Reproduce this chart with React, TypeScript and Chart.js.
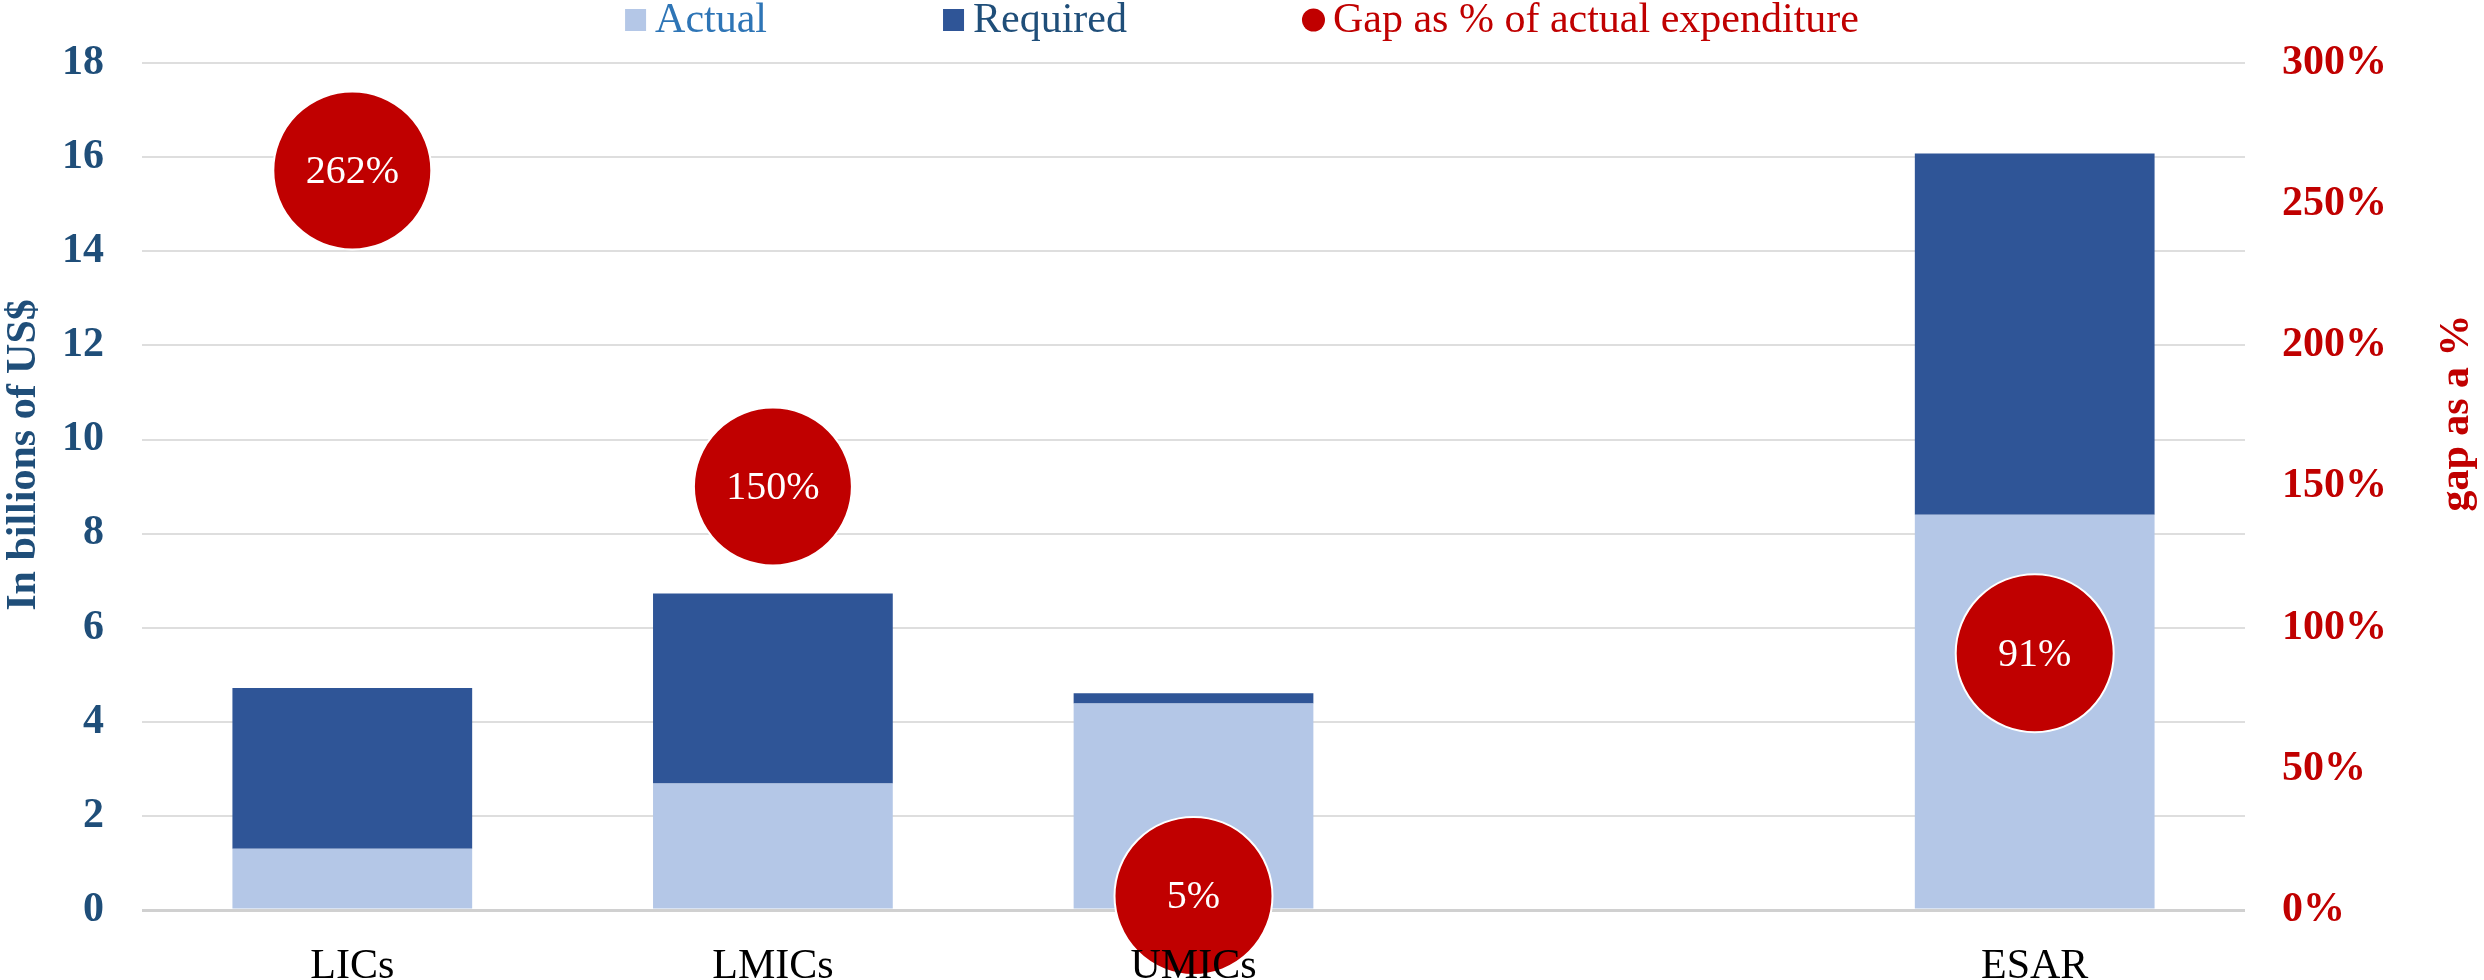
import React, { useEffect, useRef } from "react";
import { Chart, registerables } from "chart.js";

Chart.register(...registerables);

const categories = ["LICs", "LMICs", "UMICs", "", "ESAR"];
const actualValues = [1.3, 2.69, 4.39, null, 8.4];
const requiredValues = [3.42, 4.04, 0.22, null, 7.68];
const gapPercent = [262, 150, 5, null, 91];
const gapLabels = ["262%", "150%", "5%", "", "91%"];
const seriesNames = ["Actual", "Required", "Gap as % of actual expenditure"];
const leftAxisTitle = "In billions of US$";
const rightAxisTitle = "gap as a %";

const FONT = '"Liberation Serif", "Times New Roman", serif';
const C_ACTUAL = "#B4C7E7";
const C_REQ = "#2F5597";
const C_GAP = "#C00000";
const C_AXIS = "#1F4E79";

const overlayPlugin = {
  id: "overlay",
  afterDatasetsDraw(chart: any) {
    const ctx = chart.ctx;
    const meta = chart.getDatasetMeta(2);
    ctx.save();
    ctx.font = `40px ${FONT}`;
    ctx.fillStyle = "#FFFFFF";
    ctx.textAlign = "center";
    ctx.textBaseline = "middle";
    meta.data.forEach((pt: any, i: number) => {
      if (gapPercent[i] == null) return;
      ctx.fillText(gapLabels[i], pt.x, pt.y + 2);
    });
    ctx.restore();
  },
  afterDraw(chart: any) {
    const ctx = chart.ctx;
    ctx.save();
    // legend
    ctx.font = `42px ${FONT}`;
    const items = [
      { label: seriesNames[0], color: C_ACTUAL, text: "#2E75B6", shape: "rect" },
      { label: seriesNames[1], color: C_REQ, text: C_AXIS, shape: "rect" },
      { label: seriesNames[2], color: C_GAP, text: C_GAP, shape: "circle" },
    ];
    const box = 21;
    const gapTxt = 9;
    const spacing = 176;
    const widths = items.map((it) => box + gapTxt + ctx.measureText(it.label).width);
    const total = widths.reduce((a, b) => a + b, 0) + spacing * (items.length - 1);
    let x = (chart.width - total) / 2;
    const cy = 20;
    ctx.textAlign = "left";
    ctx.textBaseline = "middle";
    items.forEach((it, i) => {
      ctx.fillStyle = it.color;
      if (it.shape === "rect") {
        ctx.fillRect(x, cy - 11, box, 22);
      } else {
        ctx.beginPath();
        ctx.arc(x + box / 2, cy, 11.5, 0, Math.PI * 2);
        ctx.fill();
      }
      ctx.fillStyle = it.text;
      ctx.fillText(it.label, x + box + gapTxt, cy + 1);
      x += widths[i] + spacing;
    });
    // axis titles
    ctx.font = `bold 42px ${FONT}`;
    ctx.textAlign = "center";
    ctx.textBaseline = "middle";
    ctx.fillStyle = C_AXIS;
    ctx.save();
    ctx.translate(24, 455);
    ctx.rotate(-Math.PI / 2);
    ctx.fillText(leftAxisTitle, 0, 0);
    ctx.restore();
    ctx.fillStyle = C_GAP;
    ctx.save();
    ctx.translate(2457, 413);
    ctx.rotate(-Math.PI / 2);
    ctx.fillText(rightAxisTitle, 0, 0);
    ctx.restore();
    ctx.restore();
  },
};

export default function App() {
  const ref = useRef<HTMLCanvasElement | null>(null);
  useEffect(() => {
    document.body.style.margin = "0";
    if (!ref.current) return;
    const chart = new Chart(ref.current, {
      type: "bar",
      data: {
        labels: categories,
        datasets: [
          {
            type: "bar",
            label: seriesNames[0],
            data: actualValues as any,
            backgroundColor: C_ACTUAL,
            stack: "s",
            yAxisID: "y",
            order: 2,
            categoryPercentage: 0.57,
            barPercentage: 1,
          },
          {
            type: "bar",
            label: seriesNames[1],
            data: requiredValues as any,
            backgroundColor: C_REQ,
            stack: "s",
            yAxisID: "y",
            order: 2,
            categoryPercentage: 0.57,
            barPercentage: 1,
          },
          {
            type: "line",
            label: seriesNames[2],
            data: gapPercent as any,
            yAxisID: "y2",
            showLine: false,
            pointRadius: 79,
            pointHoverRadius: 79,
            pointBackgroundColor: C_GAP,
            pointBorderColor: "#FFFFFF",
            pointBorderWidth: 2,
            backgroundColor: C_GAP,
            borderColor: C_GAP,
            clip: false as any,
            order: 0,
          } as any,
        ],
      },
      options: {
        responsive: false,
        animation: false,
        devicePixelRatio: 1,
        layout: { autoPadding: false, padding: { top: 55, left: 0, right: 0, bottom: 0 } },
        plugins: {
          legend: { display: false },
          tooltip: { enabled: false },
        },
        scales: {
          x: {
            stacked: true,
            grid: { display: false },
            border: { display: false },
            ticks: {
              z: 1,
              color: "#000000",
              padding: 24,
              font: { family: FONT, size: 42 },
            } as any,
            afterFit: (s: any) => {
              s.height = 70;
            },
          },
          y: {
            stacked: true,
            position: "left",
            min: 0,
            max: 18,
            grid: {
              drawTicks: false,
              color: (c: any) => (c.tick && c.tick.value === 0 ? "#D0D0D0" : "#DEDEDE"),
              lineWidth: (c: any) => (c.tick && c.tick.value === 0 ? 3 : 2),
            },
            border: { display: false },
            ticks: {
              stepSize: 2,
              padding: 38,
              color: C_AXIS,
              font: { family: FONT, size: 42, weight: "bold" },
            },
            afterFit: (s: any) => {
              s.width = 142;
            },
          },
          y2: {
            position: "right",
            min: 0,
            max: 300,
            grid: { display: false, drawTicks: false },
            border: { display: false },
            ticks: {
              stepSize: 50,
              padding: 37,
              color: C_GAP,
              font: { family: FONT, size: 42, weight: "bold" },
              callback: (v: any) => `${v}%`,
            },
            afterFit: (s: any) => {
              s.width = 239;
            },
          },
        },
      },
      plugins: [overlayPlugin],
    });
    return () => chart.destroy();
  }, []);
  return (
    <div style={{ width: 2484, height: 980, background: "#FFFFFF" }}>
      <canvas ref={ref} width={2484} height={980} style={{ display: "block" }} />
    </div>
  );
}
